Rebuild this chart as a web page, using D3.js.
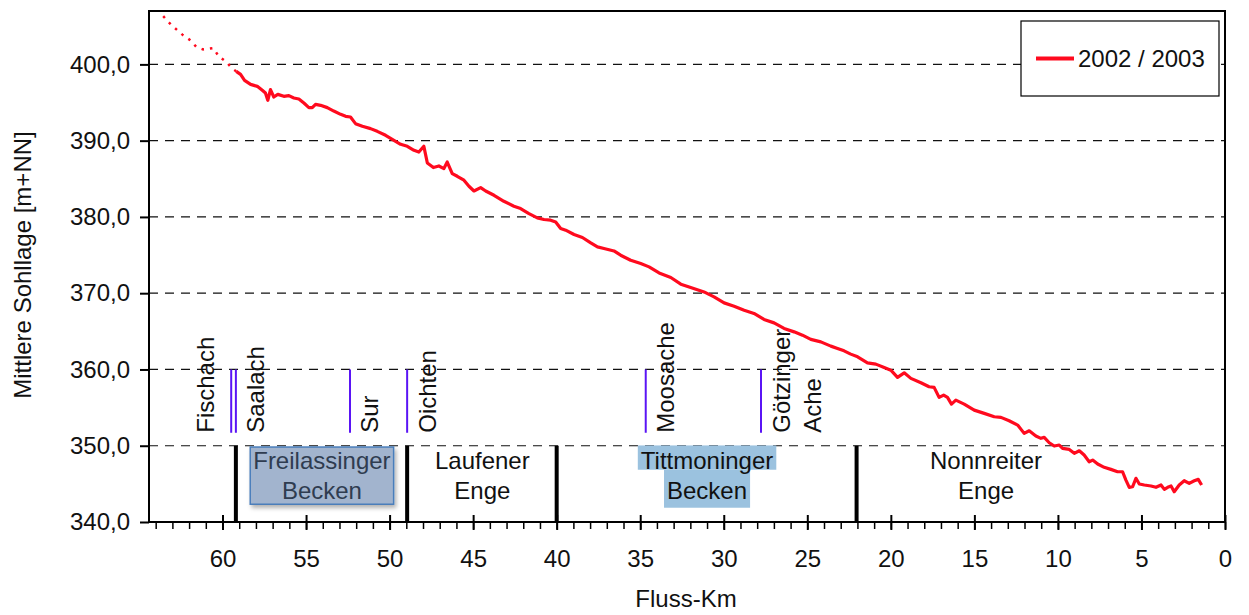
<!DOCTYPE html>
<html>
<head>
<meta charset="utf-8">
<script src="https://cdn.jsdelivr.net/npm/d3@7"></script>
<style>
  body { margin: 0; background: #fff; }
  svg { display: block; font-family: "Liberation Sans", Arial, sans-serif; }
</style>
</head>
<body>
<div class="chart"></div>
<script>
// Mittlere Sohllage 2002/2003, [Fluss-Km, m+NN]
// oberer Abschnitt (gepunktet)
const profileUpper = [
  [63.55, 406.33], [63.10, 405.24], [62.40, 403.90], [61.92, 403.15], [61.56, 402.27],
  [61.16, 401.97], [60.56, 402.14], [60.22, 401.05], [59.76, 400.30], [59.42, 399.44], [59.18, 399.09]
];
const profile2002 = [
  [59.18, 399.09], [58.92, 398.69], [58.68, 397.91], [58.32, 397.38], [57.92, 397.12], [57.62, 396.60],
  [57.43, 396.24], [57.29, 395.29], [57.13, 396.69], [56.93, 395.72], [56.69, 396.07], [56.33, 395.81],
  [56.03, 395.90], [55.73, 395.59], [55.43, 395.46], [55.13, 394.93], [54.83, 394.33], [54.63, 394.33],
  [54.43, 394.76], [54.13, 394.63], [53.73, 394.33], [53.34, 393.88], [52.93, 393.45], [52.63, 393.19],
  [52.34, 393.10], [52.04, 392.23], [51.63, 391.88], [51.14, 391.58], [50.74, 391.22], [50.24, 390.70],
  [49.74, 390.05], [49.34, 389.52], [48.94, 389.26], [48.54, 388.74], [48.25, 388.51], [47.95, 389.26],
  [47.74, 387.07], [47.38, 386.47], [47.05, 386.68], [46.75, 386.34], [46.55, 387.20], [46.25, 385.68],
  [45.95, 385.33], [45.55, 384.81], [45.25, 384.02], [44.95, 383.40], [44.55, 383.85], [44.25, 383.40],
  [43.75, 382.84], [43.16, 382.05], [42.56, 381.40], [42.16, 381.10], [41.66, 380.44], [41.16, 379.87],
  [40.76, 379.66], [40.36, 379.57], [40.06, 379.34], [39.76, 378.48], [39.46, 378.26], [38.96, 377.69],
  [38.46, 377.30], [37.96, 376.59], [37.56, 376.07], [37.17, 375.86], [36.57, 375.54], [36.17, 374.98],
  [35.57, 374.32], [34.97, 373.89], [34.47, 373.45], [33.87, 372.66], [33.17, 372.06], [32.57, 371.18],
  [31.98, 370.75], [31.18, 370.17], [30.58, 369.52], [29.98, 368.73], [29.38, 368.30], [28.78, 367.77],
  [28.19, 367.34], [27.59, 366.56], [26.99, 366.11], [26.39, 365.38], [25.79, 364.93], [25.29, 364.50],
  [24.79, 363.94], [24.19, 363.62], [23.59, 363.06], [23.19, 362.76], [22.80, 362.44], [22.40, 362.01],
  [21.99, 361.66], [21.40, 360.87], [20.90, 360.70], [20.40, 360.27], [20.00, 359.91], [19.60, 358.96],
  [19.20, 359.56], [18.80, 358.83], [18.20, 358.25], [17.71, 357.73], [17.41, 357.65], [17.11, 356.34],
  [16.84, 356.64], [16.61, 356.34], [16.37, 355.46], [16.11, 355.98], [15.61, 355.46], [15.01, 354.67],
  [14.41, 354.24], [13.81, 353.80], [13.41, 353.72], [12.92, 353.27], [12.41, 352.71], [12.02, 351.62],
  [11.72, 351.96], [11.32, 351.27], [11.02, 350.97], [10.82, 351.10], [10.52, 350.39], [10.22, 349.96],
  [9.92, 350.09], [9.72, 349.66], [9.32, 349.52], [9.02, 349.00], [8.72, 349.34], [8.43, 348.78],
  [8.13, 347.90], [7.92, 348.12], [7.62, 347.60], [7.23, 347.17], [6.83, 346.90], [6.43, 346.59],
  [6.13, 346.59], [5.93, 345.50], [5.73, 344.55], [5.53, 344.62], [5.33, 345.73], [5.13, 344.98],
  [4.83, 344.85], [4.43, 344.72], [4.13, 344.55], [3.83, 344.85], [3.63, 344.28], [3.43, 344.55],
  [3.23, 344.72], [3.04, 343.97], [2.74, 344.85], [2.44, 345.41], [2.14, 345.07], [1.84, 345.41],
  [1.60, 345.59], [1.40, 344.85]
];

// Abschnittsgrenzen und Zuflüsse (Fluss-Km)
const sectionKm = [59.2, 48.95, 40.0, 22.05];
const tribKm = [59.48, 59.2, 52.37, 48.95, 34.67, 27.77];
const tribNames = [["Fischach"], ["Saalach"], ["Sur"], ["Oichten"], ["Moosache"], ["Götzinger", "Ache"]];
const reachNames = [["Freilassinger", "Becken"], ["Laufener", "Enge"], ["Tittmoninger", "Becken"], ["Nonnreiter", "Enge"]];
const reachKm = [54.05, 44.45, 31.0, 14.3];

const yTicks = [340, 350, 360, 370, 380, 390, 400];
const xTicks = [0, 5, 10, 15, 20, 25, 30, 35, 40, 45, 50, 55, 60];
const legendLabel = "2002 / 2003";

const width = 1249, height = 615;
const margin = {top: 11, right: 24, bottom: 93, left: 149};
const red = "#ff0a1e";
const fontSize = 24;

const x = d3.scaleLinear().domain([64.4, 0]).range([margin.left, width - margin.right]);
const y = d3.scaleLinear().domain([340, 407]).range([height - margin.bottom, margin.top]);

const svg = d3.select(".chart").append("svg")
  .attr("width", width)
  .attr("height", height);

const defs = svg.append("defs");
defs.append("filter").attr("id", "shadow")
  .attr("x", "-10%").attr("y", "-10%").attr("width", "130%").attr("height", "140%")
  .append("feDropShadow")
  .attr("dx", 2).attr("dy", 3).attr("stdDeviation", 2)
  .attr("flood-color", "#000").attr("flood-opacity", 0.3);

// gestrichelte Gitterlinien
svg.append("g")
  .selectAll("line")
  .data(yTicks.filter(d => d > 340))
  .join("line")
  .attr("x1", x.range()[0]).attr("x2", x.range()[1])
  .attr("y1", d => y(d)).attr("y2", d => y(d))
  .attr("stroke", "#111")
  .attr("stroke-width", 1.2)
  .attr("stroke-dasharray", "9,7");

// Achsen
const de = d3.formatLocale({decimal: ",", thousands: ".", grouping: [3], currency: ["", " €"]});
const yAxis = svg.append("g")
  .attr("transform", `translate(${margin.left},0)`)
  .call(d3.axisLeft(y).tickValues(yTicks).tickFormat(de.format(".1f")).tickSize(9).tickPadding(10));
yAxis.select(".domain").remove();
yAxis.selectAll("line").attr("stroke-width", 2);
yAxis.selectAll("text").attr("font-size", fontSize).attr("fill", "#111").attr("font-family", null);

const xMinor = svg.append("g")
  .attr("transform", `translate(0,${y(340)})`)
  .call(d3.axisBottom(x).tickValues(d3.range(0, 65)).tickSize(7).tickFormat(""));
xMinor.select(".domain").remove();
xMinor.selectAll("line").attr("stroke-width", 1.5);

const xAxis = svg.append("g")
  .attr("transform", `translate(0,${y(340)})`)
  .call(d3.axisBottom(x).tickValues(xTicks).tickSize(8).tickPadding(20));
xAxis.select(".domain").remove();
xAxis.selectAll("line").attr("y1", -7).attr("stroke-width", 2);
xAxis.selectAll("text").attr("font-size", fontSize).attr("fill", "#111").attr("font-family", null);

// Rahmen
svg.append("rect")
  .attr("x", x.range()[0]).attr("y", y.range()[1])
  .attr("width", x.range()[1] - x.range()[0])
  .attr("height", y.range()[0] - y.range()[1])
  .attr("fill", "none").attr("stroke", "#000").attr("stroke-width", 2);

// Achsentitel
svg.append("text")
  .attr("transform", `translate(31,265) rotate(-90)`)
  .attr("text-anchor", "middle")
  .attr("font-size", fontSize).attr("fill", "#111")
  .text("Mittlere Sohllage [m+NN]");
svg.append("text")
  .attr("x", 686).attr("y", 607)
  .attr("text-anchor", "middle")
  .attr("font-size", fontSize).attr("fill", "#111")
  .text("Fluss-Km");

// Abschnittsgrenzen
svg.append("g")
  .selectAll("line")
  .data(sectionKm)
  .join("line")
  .attr("x1", d => x(d)).attr("x2", d => x(d))
  .attr("y1", y(350)).attr("y2", y(340))
  .attr("stroke", "#000").attr("stroke-width", 4);

// Zuflüsse
svg.append("g")
  .selectAll("line")
  .data(tribKm)
  .join("line")
  .attr("x1", d => x(d)).attr("x2", d => x(d))
  .attr("y1", y(360)).attr("y2", y(351.7))
  .attr("stroke", "#5a14f5").attr("stroke-width", 2);

const tribLabel = svg.append("g")
  .selectAll("text")
  .data(tribNames)
  .join("text")
  .attr("transform", (d, i) => `translate(${x(tribKm[i]) + (i === 0 ? -17.5 : 28.5)},${y(351.7)}) rotate(-90)`)
  .attr("font-size", fontSize).attr("fill", "#111");
tribLabel.selectAll("tspan")
  .data(d => d)
  .join("tspan")
  .attr("x", 0)
  .attr("dy", (d, i) => i ? 31 : 0)
  .text(d => d);

// Flussabschnitte
const reachStyle = ["box", "plain", "mark", "plain"];
const b1 = y(350) + 23.5, b2 = y(350) + 53;
reachNames.forEach((lines, i) => {
  const g = svg.append("g");
  const cx = x(reachKm[i]);
  if (reachStyle[i] === "box") {
    const rect = g.append("rect");
    const t = g.append("text").attr("text-anchor", "middle").attr("font-size", fontSize).attr("fill", "#2f3c50");
    t.append("tspan").attr("x", cx).attr("y", b1).text(lines[0]);
    t.append("tspan").attr("x", cx).attr("y", b2).text(lines[1]);
    const bb = t.node().getBBox();
    rect.attr("x", bb.x - 3).attr("y", y(350) + 1.3)
      .attr("width", bb.width + 6).attr("height", b2 + 5.5 - y(350) - 1.3)
      .attr("fill", "#a2b4ce").attr("stroke", "#4a7ebb").attr("stroke-width", 1.5)
      .attr("filter", "url(#shadow)");
  } else if (reachStyle[i] === "mark") {
    const r1 = g.append("rect"), r2 = g.append("rect");
    const t1 = g.append("text").attr("x", cx).attr("y", b1).attr("text-anchor", "middle")
      .attr("font-size", fontSize).attr("fill", "#111").text(lines[0]);
    const t2 = g.append("text").attr("x", cx).attr("y", b2).attr("text-anchor", "middle")
      .attr("font-size", fontSize).attr("fill", "#111").text(lines[1]);
    const w1 = t1.node().getComputedTextLength(), w2 = t2.node().getComputedTextLength();
    r1.attr("x", cx - w1 / 2 - 3).attr("y", b1 - 23.8).attr("width", w1 + 6).attr("height", 24.3)
      .attr("fill", "#9bc2df");
    r2.attr("x", cx - w2 / 2 - 3).attr("y", b1 + 0.5).attr("width", w2 + 6).attr("height", b2 + 9 - b1 - 0.5)
      .attr("fill", "#9bc2df");
  } else {
    const t = g.append("text").attr("text-anchor", "middle").attr("font-size", fontSize).attr("fill", "#111");
    t.append("tspan").attr("x", cx).attr("y", b1).text(lines[0]);
    t.append("tspan").attr("x", cx).attr("y", b2).text(lines[1]);
  }
});

// Sohllage
const line = d3.line().x(d => x(d[0])).y(d => y(d[1]));
svg.append("path")
  .datum(profileUpper)
  .attr("d", line)
  .attr("fill", "none").attr("stroke", red)
  .attr("stroke-width", 2.5).attr("stroke-dasharray", "2.5,6");
svg.append("path")
  .datum(profile2002)
  .attr("d", line)
  .attr("fill", "none").attr("stroke", red)
  .attr("stroke-width", 3.2).attr("stroke-linejoin", "round");

// Legende
const legend = svg.append("g");
legend.append("rect")
  .attr("x", 1021).attr("y", 21).attr("width", 198).attr("height", 75)
  .attr("fill", "#fff").attr("stroke", "#000").attr("stroke-width", 1.2);
legend.append("line")
  .attr("x1", 1036).attr("x2", 1074).attr("y1", 58.5).attr("y2", 58.5)
  .attr("stroke", red).attr("stroke-width", 4);
legend.append("text")
  .attr("x", 1078).attr("y", 66.5)
  .attr("font-size", fontSize).attr("fill", "#111")
  .text(legendLabel);
</script>
</body>
</html>
